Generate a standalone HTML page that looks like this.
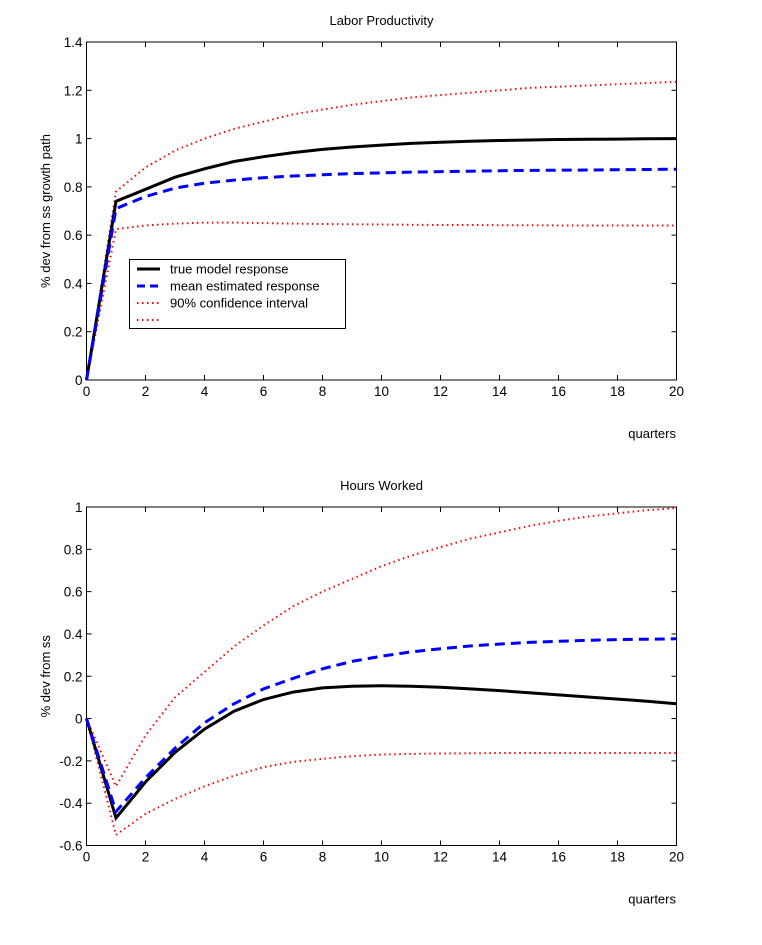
<!DOCTYPE html>
<html><head><meta charset="utf-8"><style>
body{margin:0;background:#fff}
svg{display:block;font-family:"Liberation Sans",Arial,sans-serif}
</style></head><body>
<svg id="chart" width="762" height="945" xmlns="http://www.w3.org/2000/svg"></svg>
<script>
const quarters=[0,1,2,3,4,5,6,7,8,9,10,11,12,13,14,15,16,17,18,19,20];
const lpTrue=[0,0.74,0.79,0.84,0.875,0.905,0.925,0.942,0.955,0.965,0.973,0.98,0.985,0.989,0.992,0.994,0.996,0.997,0.998,0.999,1.0];
const lpMean=[0,0.71,0.76,0.795,0.815,0.828,0.838,0.845,0.85,0.855,0.858,0.861,0.863,0.865,0.867,0.868,0.869,0.870,0.871,0.872,0.873];
const lpUpper=[0,0.78,0.88,0.95,1.0,1.04,1.07,1.1,1.12,1.14,1.155,1.17,1.18,1.19,1.2,1.21,1.215,1.22,1.225,1.23,1.235];
const lpLower=[0,0.625,0.64,0.648,0.652,0.652,0.65,0.648,0.646,0.645,0.644,0.643,0.642,0.642,0.641,0.641,0.64,0.64,0.64,0.64,0.64];
const hwTrue=[0,-0.47,-0.3,-0.16,-0.05,0.035,0.09,0.125,0.145,0.153,0.155,0.153,0.148,0.14,0.132,0.122,0.112,0.102,0.092,0.082,0.07];
const hwMean=[0,-0.44,-0.28,-0.14,-0.02,0.07,0.14,0.19,0.235,0.27,0.295,0.315,0.33,0.343,0.352,0.36,0.365,0.37,0.373,0.375,0.377];
const hwUpper=[0,-0.32,-0.08,0.1,0.22,0.34,0.44,0.53,0.6,0.66,0.72,0.77,0.81,0.85,0.88,0.91,0.935,0.955,0.97,0.985,0.995];
const hwLower=[0,-0.55,-0.45,-0.38,-0.32,-0.27,-0.23,-0.205,-0.19,-0.178,-0.17,-0.167,-0.165,-0.164,-0.163,-0.163,-0.163,-0.163,-0.163,-0.163,-0.163];
const xTicks=[0,2,4,6,8,10,12,14,16,18,20];
const lpTicks=[0,0.2,0.4,0.6,0.8,1,1.2,1.4];
const hwTicks=[-0.6,-0.4,-0.2,0,0.2,0.4,0.6,0.8,1];

const NS="http://www.w3.org/2000/svg";
const svg=document.getElementById('chart');
function mk(tag,attrs,parent){const e=document.createElementNS(NS,tag);for(const k in attrs)e.setAttribute(k,attrs[k]);(parent||svg).appendChild(e);return e;}

function panel(cfg){
  const g=mk('g',{});
  
  
  const L=86.5,R=676.5,T=cfg.top,B=cfg.bottom;
  const xs=v=>L+(v-0)/(20-0)*(R-L);
  const ys=v=>B-(v-cfg.ymin)/(cfg.ymax-cfg.ymin)*(B-T);
  const box=mk('rect',{x:L,y:T,width:R-L,height:B-T,fill:'none',stroke:'#000','stroke-width':1},g);
  
  
  xTicks.forEach(t=>{
    const x=xs(t);
    mk('line',{x1:x,y1:B,x2:x,y2:B-5,stroke:'#000'},g);
    mk('line',{x1:x,y1:T,x2:x,y2:T+5,stroke:'#000'},g);
    const tx=mk('text',{x:x,y:B+16,'font-size':13.5,'text-anchor':'middle'},g);
    tx.textContent=t;
    
    
  });
  cfg.yticks.forEach(t=>{
    const y=ys(t);
    mk('line',{x1:L,y1:y,x2:L+5,y2:y,stroke:'#000'},g);
    mk('line',{x1:R,y1:y,x2:R-5,y2:y,stroke:'#000'},g);
    const tx=mk('text',{x:L-4,y:y+5,'font-size':13.5,'text-anchor':'end'},g);
    tx.textContent=String(Math.round(t*10)/10);
    
    
  });
  const line=(arr,style,name)=>{
    const d=arr.map((v,i)=>(i?'L':'M')+xs(quarters[i]).toFixed(1)+' '+ys(v).toFixed(1)).join(' ');
    const p=mk('path',Object.assign({d:d,fill:'none'},style),g);
    
    
  };
  const dot={stroke:'#f00','stroke-width':2,'stroke-dasharray':'1.5 3.5'};
  line(cfg.upper,dot,'upper-ci-line');
  line(cfg.lower,dot,'lower-ci-line');
  line(cfg.tru,{stroke:'#000','stroke-width':3},'true-response-line');
  line(cfg.mean,{stroke:'#00f','stroke-width':3,'stroke-dasharray':'10 6'},'mean-estimate-line');
  const ti=mk('text',{x:(L+R)/2,y:T-17,'font-size':13,'text-anchor':'middle'},g);
  ti.textContent=cfg.title;
  
  
  const yl=mk('text',{x:0,y:0,'font-size':13,'text-anchor':'middle',transform:`translate(50,${(T+B)/2}) rotate(-90)`},g);
  yl.textContent=cfg.ylabel;
  
  
  const xl=mk('text',{x:676,y:B+58,'font-size':13,'text-anchor':'end'},g);
  xl.textContent='quarters';
  
  
  return g;
}
panel({name:'labor-productivity-panel',top:42,bottom:380,ymin:0,ymax:1.4,yticks:lpTicks,tru:lpTrue,mean:lpMean,upper:lpUpper,lower:lpLower,title:'Labor Productivity',ylabel:'% dev from ss growth path'});
panel({name:'hours-worked-panel',top:507,bottom:845.5,ymin:-0.6,ymax:1,yticks:hwTicks,tru:hwTrue,mean:hwMean,upper:hwUpper,lower:hwLower,title:'Hours Worked',ylabel:'% dev from ss'});

const lg=mk('g',{});


mk('rect',{x:129.5,y:259.5,width:216,height:69,fill:'#fff',stroke:'#000'},lg);
const entries=[['true model response',{stroke:'#000','stroke-width':3}],['mean estimated response',{stroke:'#00f','stroke-width':3,'stroke-dasharray':'8 5'}],['90% confidence interval',{stroke:'#f00','stroke-width':2,'stroke-dasharray':'1.5 3.5'}],['',{stroke:'#f00','stroke-width':2,'stroke-dasharray':'1.5 3.5'}]];
entries.forEach((e,i)=>{
  const y=269+i*17;
  const ln=mk('line',Object.assign({x1:137,y1:y,x2:160,y2:y},e[1]),lg);
  
  
  if(e[0]){const t=mk('text',{x:170,y:y+4.5,'font-size':13},lg);t.textContent=e[0];
  
  }
});
</script>
</body></html>
